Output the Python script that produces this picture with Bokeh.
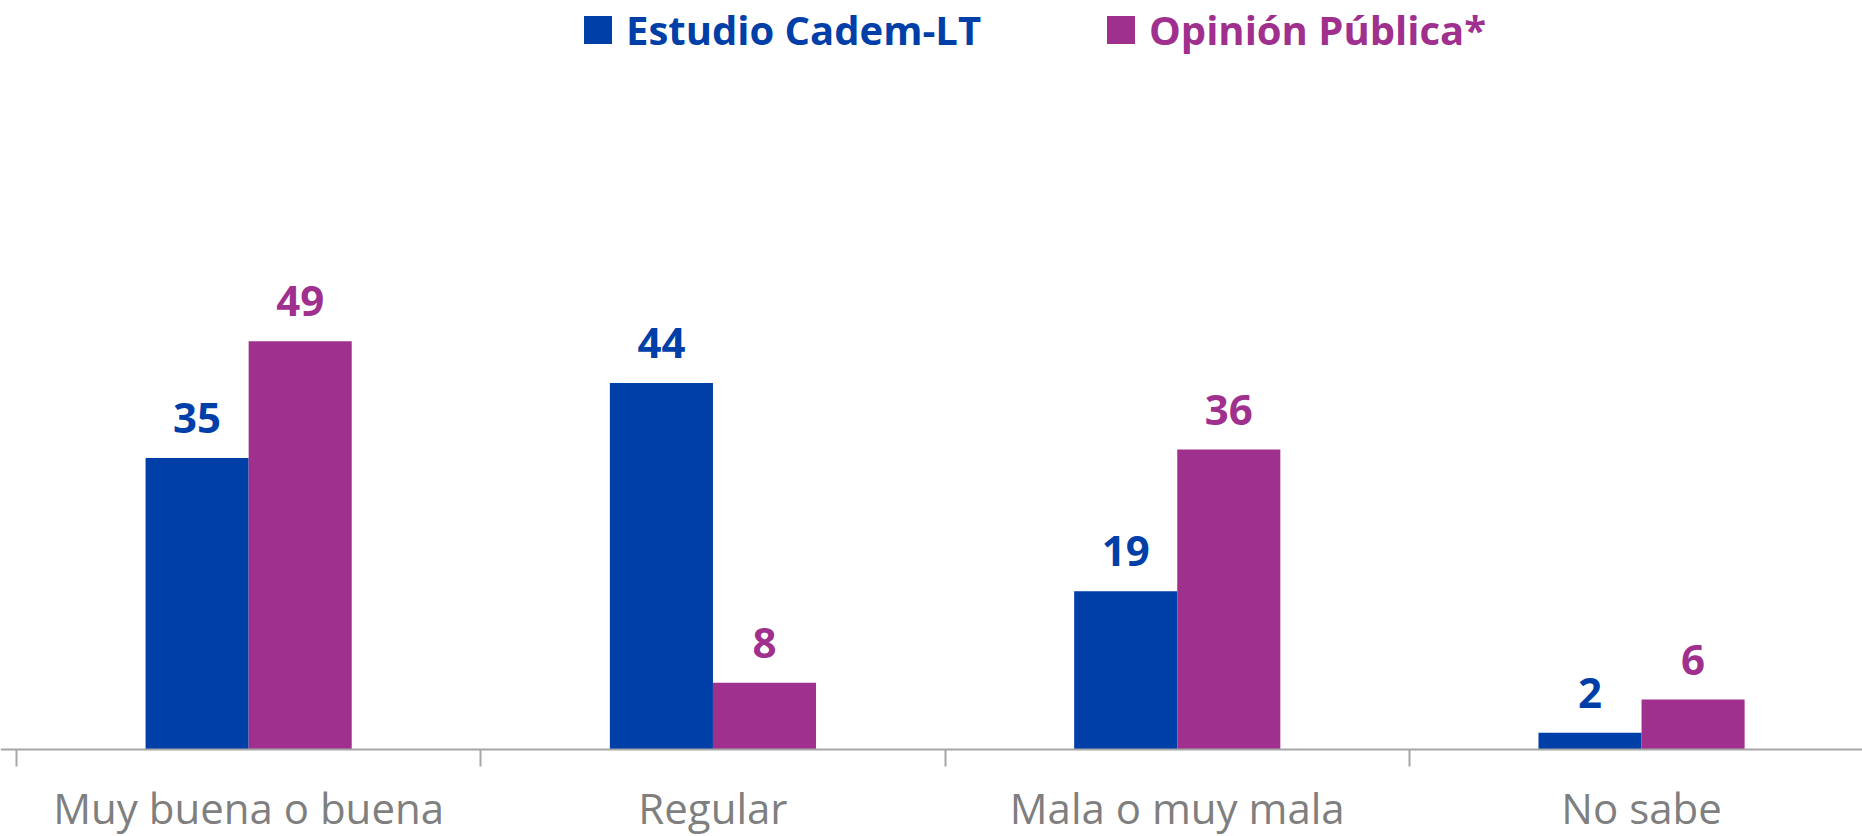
from bokeh.plotting import figure
from bokeh.models import (Range1d, FixedTicker, Legend, LegendItem, ColumnDataSource)
from bokeh.core.properties import value
from bokeh.embed import file_html
from bokeh.resources import INLINE

categories = ["Muy buena o buena", "Regular", "Mala o muy mala", "No sabe"]
cadem = [35, 44, 19, 2]
opinion = [49, 8, 36, 6]
series_names = ["Estudio Cadem-LT", "Opinión Pública*"]

BLUE = "#003FA8"
MAGENTA = "#A0308E"
FONT = "Open Sans"

W, H = 1862, 836
PX_PER_CAT = 464.3
PX_PER_UNIT = 8.33
ZERO_Y = 749   # px from figure top
LEFT_X = 16    # px from figure left
n = len(categories)
bar_w = 0.222
centers = [i + 0.5 for i in range(n)]

x0 = -LEFT_X / PX_PER_CAT
p = figure(width=W, height=H, output_backend="svg", toolbar_location=None,
           x_range=Range1d(x0, x0 + W / PX_PER_CAT),
           y_range=Range1d(-(H - ZERO_Y) / PX_PER_UNIT, ZERO_Y / PX_PER_UNIT),
           min_border_left=0, min_border_right=0, min_border_top=0, min_border_bottom=0)
p.outline_line_color = None
p.grid.visible = False
p.yaxis.visible = False
p.background_fill_color = "white"

src_a = ColumnDataSource(dict(x=[c - bar_w / 2 for c in centers], top=cadem,
                              lbl=[str(v) for v in cadem]))
src_b = ColumnDataSource(dict(x=[c + bar_w / 2 for c in centers], top=opinion,
                              lbl=[str(v) for v in opinion]))

ra = p.vbar(x="x", top="top", bottom=0, width=bar_w, source=src_a, fill_color=BLUE, line_color=None)
rb = p.vbar(x="x", top="top", bottom=0, width=bar_w, source=src_b, fill_color=MAGENTA, line_color=None)

for src, col in ((src_a, BLUE), (src_b, MAGENTA)):
    p.text(x="x", y="top", text="lbl", source=src, y_offset=-40,
           text_align="center", text_baseline="alphabetic",
           text_font=value(FONT), text_font_style="bold", text_font_size="42px",
           text_color=col)

ax = p.xaxis[0]
ax.fixed_location = 0
ax.ticker = FixedTicker(ticks=centers, minor_ticks=list(range(n + 1)))
ax.major_label_overrides = {c: lab for c, lab in zip(centers, categories)}
ax.axis_line_color = "#A6A6A6"
ax.axis_line_width = 2
ax.major_tick_line_color = None
ax.major_tick_out = 0
ax.major_tick_in = 0
ax.minor_tick_line_color = "#A6A6A6"
ax.minor_tick_line_width = 2
ax.minor_tick_out = 17
ax.minor_tick_in = 0
ax.major_label_standoff = 12
ax.major_label_text_font = FONT
ax.major_label_text_font_size = "42px"
ax.major_label_text_color = "#7F7F7F"

for r, name, col, xloc in ((ra, series_names[0], BLUE, 580), (rb, series_names[1], MAGENTA, 1103)):
    leg = Legend(items=[LegendItem(label=name, renderers=[r])], location=(xloc, 779),
                 orientation="horizontal", glyph_width=35, glyph_height=35,
                 label_standoff=11, padding=0, margin=0, spacing=0,
                 border_line_color=None, background_fill_alpha=0,
                 label_text_font=FONT, label_text_font_style="bold",
                 label_text_font_size="40px", label_text_color=col)
    p.add_layout(leg)

open("out.html", "w").write(file_html(p, INLINE))
